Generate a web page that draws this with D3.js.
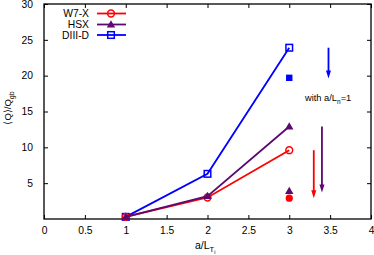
<!DOCTYPE html>
<html><head><meta charset="utf-8">
<script src="https://cdn.jsdelivr.net/npm/d3@7"></script>
<style>body{margin:0;background:#fff}svg{display:block}text{font-family:"Liberation Sans",Arial,sans-serif}</style>
</head><body>
<svg id="c" width="374" height="255"></svg>
<script>
const gradients = [1, 2, 3];
const seriesNames = ["W7-X", "HSX", "DIII-D"];
const w7x = [0.3, 3.0, 9.6];
const hsx = [0.3, 3.2, 12.9];
const diiid = [0.3, 6.3, 23.9];
const withLnX = [3, 3, 3];
const withLn = [2.9, 3.9, 19.7];
const arrowX = [3.3, 3.4, 3.48];
const arrowFrom = [9.6, 12.9, 23.9];
const arrowTo = [2.9, 3.7, 19.6];
const xTicks = [0, 0.5, 1, 1.5, 2, 2.5, 3, 3.5, 4];
const yTicks = [5, 10, 15, 20, 25, 30];
const colors = ["#ff0000", "#5c0a70", "#0000ff"];

const svg = d3.select("#c");
const L = 44, R = 371, T = 4, B = 219;
const x = d3.scaleLinear().domain([0, 4]).range([L, R]);
const y = d3.scaleLinear().domain([0, 30]).range([B, T]);

const fs = 10.3;
svg.append("g").attr("transform", `translate(0,${B})`)
  .call(d3.axisBottom(x).tickValues(xTicks).tickSizeInner(-4).tickSizeOuter(0).tickPadding(8).tickFormat(d3.format("")))
  .call(g => g.select(".domain").remove())
  .call(g => g.selectAll("text").attr("font-size", fs).attr("fill", "#000").attr("font-family", "Liberation Sans, Arial, sans-serif"));
svg.append("g").attr("transform", `translate(0,${T})`)
  .call(d3.axisTop(x).tickValues(xTicks).tickSizeInner(-4).tickSizeOuter(0).tickFormat(""))
  .call(g => g.select(".domain").remove());
svg.append("g").attr("transform", `translate(${L},0)`)
  .call(d3.axisLeft(y).tickValues(yTicks).tickSizeInner(-4).tickSizeOuter(0).tickPadding(11))
  .call(g => g.select(".domain").remove())
  .call(g => g.selectAll("text").attr("font-size", fs).attr("fill", "#000").attr("font-family", "Liberation Sans, Arial, sans-serif"));
svg.append("g").attr("transform", `translate(${R},0)`)
  .call(d3.axisRight(y).tickValues(yTicks).tickSizeInner(-4).tickSizeOuter(0).tickFormat(""))
  .call(g => g.select(".domain").remove());
svg.selectAll(".tick line").attr("stroke", "#000").attr("stroke-width", 1);
svg.append("rect").attr("x", L).attr("y", T).attr("width", R - L).attr("height", B - T)
  .attr("fill", "none").attr("stroke", "#000").attr("stroke-width", 1.3);

// axis labels
const yl = svg.append("text").attr("transform", `translate(11,108) rotate(-90)`)
  .attr("text-anchor", "middle").attr("font-size", 9.5);
yl.append("tspan").text("\u27E8Q\u27E9/Q");
yl.append("tspan").attr("font-size", 7).attr("dy", 2.5).text("gb");
const xl = svg.append("text").attr("x", 195).attr("y", 249).attr("font-size", 10.5);
xl.append("tspan").text("a/L");
xl.append("tspan").attr("font-size", 7.5).attr("dy", 3).text("T");
xl.append("tspan").attr("font-size", 5.5).attr("dy", 2).text("i");

function marker(g, type, cx, cy, color, filled) {
  if (type === 0) {
    g.append("circle").attr("cx", cx).attr("cy", cy).attr("r", filled ? 3.6 : 3.4)
      .attr("fill", filled ? color : "none").attr("stroke", color).attr("stroke-width", filled ? 0 : 1.5);
  } else if (type === 1) {
    const s = 4.2;
    g.append("path").attr("d", `M${cx},${cy - s}L${cx + s},${cy + s * 0.7}L${cx - s},${cy + s * 0.7}Z`)
      .attr("fill", color);
  } else {
    const s = filled ? 3.2 : 3.3;
    g.append("rect").attr("x", cx - s).attr("y", cy - s).attr("width", 2 * s).attr("height", 2 * s)
      .attr("fill", filled ? color : "none").attr("stroke", color).attr("stroke-width", filled ? 0 : 1.5);
  }
}

const series = [w7x, hsx, diiid];
const line = d3.line().x((d, i) => x(gradients[i])).y(d => y(d));
[2, 0, 1].forEach(k => {
  const g = svg.append("g");
  g.append("path").datum(series[k]).attr("d", line).attr("fill", "none")
    .attr("stroke", colors[k]).attr("stroke-width", 1.8);
  series[k].forEach((v, i) => marker(g, k, x(gradients[i]), y(v), colors[k], false));
});

withLn.forEach((v, k) => marker(svg, k, x(withLnX[k]), y(v), colors[k], true));

arrowX.forEach((ax, k) => {
  const px = x(ax), y0 = y(arrowFrom[k]), y1 = y(arrowTo[k]);
  svg.append("line").attr("x1", px).attr("x2", px).attr("y1", y0).attr("y2", y1 - 6)
    .attr("stroke", colors[k]).attr("stroke-width", 1.8);
  svg.append("path").attr("d", `M${px},${y1}L${px - 2.5},${y1 - 8}L${px + 2.5},${y1 - 8}Z`).attr("fill", colors[k]);
});

const an = svg.append("text").attr("x", 305).attr("y", 101).attr("font-size", 9.3);
an.append("tspan").text("with a/L");
an.append("tspan").attr("font-size", 6.5).attr("dy", 2.5).text("n");
an.append("tspan").attr("dy", -2.5).text("=1");

const legY = [13.5, 24.5, 35];
seriesNames.forEach((n, k) => {
  svg.append("text").attr("x", 89).attr("y", legY[k] + 3.7).attr("text-anchor", "end")
    .attr("font-size", fs).text(n);
  svg.append("line").attr("x1", 97).attr("x2", 126).attr("y1", legY[k]).attr("y2", legY[k])
    .attr("stroke", colors[k]).attr("stroke-width", 1.8);
  marker(svg, k, 111, legY[k], colors[k], false);
});
</script>
</body></html>
